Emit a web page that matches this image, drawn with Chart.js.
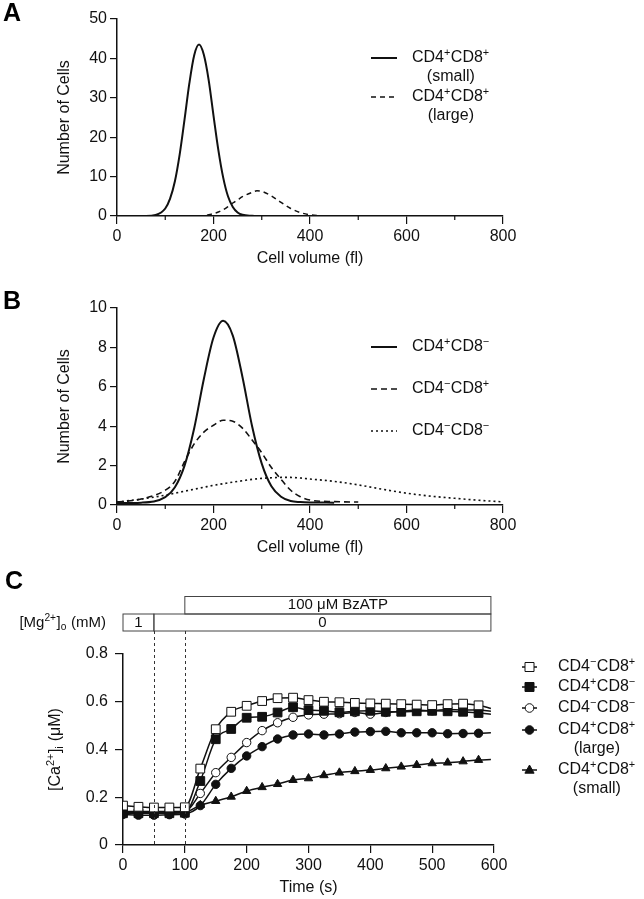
<!DOCTYPE html>
<html>
<head>
<meta charset="utf-8">
<script src="https://cdn.jsdelivr.net/npm/chart.js@4.4.1/dist/chart.umd.min.js"></script>
<style>
  html, body { margin: 0; padding: 0; background: #fff; }
  body { width: 644px; height: 899px; position: relative; overflow: hidden; }
  canvas { position: absolute; left: 0; }
</style>
</head>
<body>
<canvas id="chartA" width="644" height="280" style="top:0px"></canvas>
<canvas id="chartB" width="644" height="280" style="top:280px"></canvas>
<canvas id="chartC" width="644" height="339" style="top:560px"></canvas>
<script>
// ==========================================
// DATA - panel A (cell volume, CD4+CD8+)
// ==========================================
const volA   = [0, 60, 80, 100, 110, 120, 130, 140, 150, 160, 170, 180, 190, 200, 210, 220, 230, 240, 250, 260, 280, 290, 300, 320, 340, 360, 380, 400, 420, 440, 500, 600, 700, 800];
const smallA = [0, 0, 0.25, 1.9, 4.4, 8.8, 15.7, 24.5, 33.7, 40.8, 43.5, 40.9, 34.5, 25.5, 16.8, 9.8, 5, 2.3, 0.9, 0.3, 0.05, 0, 0, 0, 0, 0, 0, 0, 0, 0, 0, 0, 0, 0];
const largeA = [0, 0, 0, 0, 0, 0, 0, 0, 0, 0, 0.02, 0.1, 0.3, 0.6, 1.0, 1.6, 2.4, 3.3, 4.1, 4.9, 6.0, 6.4, 6.25, 5.1, 3.45, 1.9, 0.87, 0.32, 0.1, 0.02, 0, 0, 0, 0];
const legendA = ['CD4^+CD8^+|(small)', 'CD4^+CD8^+|(large)'];
const yTicksA = [0, 10, 20, 30, 40, 50];

// ==========================================
// DATA - panel B (single positive / double negative)
// ==========================================
const volB    = [0, 50, 100, 120, 140, 160, 180, 200, 220, 240, 260, 280, 300, 320, 340, 360, 380, 400, 450, 500, 550, 600, 650, 700, 750, 800];
const cd4pB   = [0.1, 0.12, 0.4, 0.9, 2.0, 3.9, 6.4, 8.5, 9.35, 8.6, 6.5, 4.0, 2.1, 0.95, 0.42, 0.2, 0.15, 0.13, 0.12, null, null, null, null, null, null, null];
const cd8pB   = [0.15, 0.3, 0.75, 1.2, 2.2, 3.1, 3.7, 4.05, 4.3, 4.25, 3.9, 3.3, 2.65, 1.9, 1.3, 0.75, 0.42, 0.25, 0.17, 0.15, null, null, null, null, null, null];
const dnB     = [0.15, 0.3, 0.5, 0.6, 0.7, 0.8, 0.9, 1.0, 1.08, 1.16, 1.23, 1.3, 1.35, 1.38, 1.4, 1.4, 1.37, 1.32, 1.2, 1.02, 0.8, 0.6, 0.45, 0.34, 0.24, 0.16];
const legendB = ['CD4^+CD8^−', 'CD4^−CD8^+', 'CD4^−CD8^−'];
const yTicksB = [0, 2, 4, 6, 8, 10];

const volTicks = [0, 200, 400, 600, 800];
const volMinor = [100, 300, 500, 700];

// ==========================================
// DATA - panel C ([Ca2+]i time course)
// ==========================================
const timeC  = [0, 25, 50, 75, 100, 125, 150, 175, 200, 225, 250, 275, 300, 325, 350, 375, 400, 425, 450, 475, 500, 525, 550, 575];
const dnCD8p = [0.165, 0.16, 0.157, 0.157, 0.158, 0.32, 0.485, 0.558, 0.583, 0.603, 0.615, 0.617, 0.607, 0.6, 0.598, 0.595, 0.593, 0.592, 0.59, 0.588, 0.586, 0.59, 0.592, 0.585];
const cd4pC  = [0.133, 0.133, 0.133, 0.133, 0.135, 0.268, 0.443, 0.486, 0.533, 0.537, 0.555, 0.577, 0.565, 0.562, 0.556, 0.56, 0.562, 0.558, 0.558, 0.56, 0.562, 0.56, 0.558, 0.553];
const dnC    = [0.14, 0.14, 0.14, 0.14, 0.14, 0.216, 0.303, 0.367, 0.429, 0.479, 0.512, 0.535, 0.545, 0.548, 0.55, 0.555, 0.548, 0.555, 0.56, 0.565, 0.562, 0.568, 0.565, 0.565];
const dpLarge = [0.128, 0.125, 0.125, 0.127, 0.13, 0.165, 0.254, 0.321, 0.373, 0.412, 0.444, 0.461, 0.465, 0.461, 0.465, 0.473, 0.475, 0.476, 0.47, 0.47, 0.47, 0.466, 0.467, 0.468];
const dpSmall = [0.135, 0.135, 0.135, 0.135, 0.137, 0.167, 0.184, 0.202, 0.226, 0.242, 0.255, 0.272, 0.279, 0.292, 0.303, 0.309, 0.314, 0.321, 0.328, 0.335, 0.342, 0.345, 0.35, 0.356];
// fitted lines run on a little past the last sample
const fitEndT = 595;
const fitEndC = [0.572, 0.548, 0.56, 0.47, 0.358];
const legendC = ['CD4^−CD8^+', 'CD4^+CD8^−', 'CD4^−CD8^−', 'CD4^+CD8^+|(large)', 'CD4^+CD8^+|(small)'];
const timeTicks = [0, 100, 200, 300, 400, 500, 600];
const caTicks = [0, 0.2, 0.4, 0.6, 0.8];
const mgPeriods = [[0, 50, '1'], [50, 595, '0']];
const bzatpPeriod = [100, 595, '100 μM BzATP'];

// ==========================================
// HELPERS
// ==========================================
const ink = '#111';
const FAMILY = '"Liberation Sans", Arial, Helvetica, sans-serif';
Chart.defaults.font.family = FAMILY;
Chart.defaults.font.size = 16;
Chart.defaults.color = ink;
Chart.defaults.animation = false;

const pts = (xs, ys) => xs.map((x, i) => ({ x: x, y: ys[i] }));
const setTicks = list => (s => { s.ticks = list.map(v => ({ value: v })); });

// "^x" / "^{..}" = superscript, "_x" / "_{..}" = subscript
function parseRich(s) {
    const out = [];
    let buf = '', i = 0;
    while (i < s.length) {
        const c = s[i];
        if (c === '^' || c === '_') {
            if (buf) { out.push({ t: buf, m: 0 }); buf = ''; }
            let t;
            if (s[i + 1] === '{') { const j = s.indexOf('}', i); t = s.slice(i + 2, j); i = j + 1; }
            else { t = s[i + 1]; i += 2; }
            out.push({ t: t, m: c === '^' ? 1 : -1 });
        } else { buf += c; i++; }
    }
    if (buf) out.push({ t: buf, m: 0 });
    return out;
}

function richText(ctx, s, x, y, size, align) {
    const parts = parseRich(s);
    const small = size * 0.68;
    let w = 0;
    parts.forEach(p => {
        ctx.font = (p.m ? small : size) + 'px ' + FAMILY;
        p.w = ctx.measureText(p.t).width + (p.m ? 0.5 : 0);
        w += p.w;
    });
    let cx = align === 'center' ? x - w / 2 : align === 'right' ? x - w : x;
    ctx.textAlign = 'left';
    ctx.textBaseline = 'middle';
    ctx.fillStyle = ink;
    parts.forEach(p => {
        ctx.font = (p.m ? small : size) + 'px ' + FAMILY;
        const dy = p.m === 1 ? -size * 0.33 : p.m === -1 ? size * 0.28 : 0;
        ctx.fillText(p.t, cx, y + dy);
        cx += p.w;
    });
    return w;
}

function legendText(ctx, label, x, y, size) {
    const lines = label.split('|');
    const w = richText(ctx, lines[0], x, y, size, 'left');
    lines.slice(1).forEach((l, k) => richText(ctx, l, x + w / 2, y + 19 * (k + 1), size, 'center'));
}

function legendLine(ctx, x1, x2, y, dash, width) {
    ctx.save();
    ctx.strokeStyle = ink;
    ctx.lineWidth = width;
    ctx.setLineDash(dash);
    ctx.beginPath(); ctx.moveTo(x1, y); ctx.lineTo(x2, y); ctx.stroke();
    ctx.restore();
}

function panelLetter(ctx, letter, x, y) {
    ctx.font = 'bold 25px ' + FAMILY;
    ctx.fillStyle = '#000';
    ctx.textAlign = 'left';
    ctx.textBaseline = 'middle';
    ctx.fillText(letter, x, y);
}

function drawMinor(chart) {
    const ctx = chart.ctx, xs = chart.scales.x, y0 = chart.chartArea.bottom;
    ctx.save();
    ctx.strokeStyle = ink; ctx.lineWidth = 1.2;
    ctx.beginPath();
    volMinor.forEach(v => { const px = xs.getPixelForValue(v); ctx.moveTo(px, y0); ctx.lineTo(px, y0 + 4); });
    ctx.stroke();
    ctx.restore();
}

function marker(ctx, style, filled, x, y) {
    ctx.save();
    ctx.strokeStyle = ink; ctx.lineWidth = 1;
    ctx.beginPath();
    if (style === 'rect') ctx.rect(x - 4.5, y - 4.5, 9, 9);
    else if (style === 'circle') ctx.arc(x, y, 4.3, 0, Math.PI * 2);
    else { ctx.moveTo(x, y - 5); ctx.lineTo(x + 4.6, y + 3.2); ctx.lineTo(x - 4.6, y + 3.2); ctx.closePath(); }
    ctx.fillStyle = filled ? ink : '#fff';
    ctx.fill(); ctx.stroke();
    ctx.restore();
}

function axisStyle(tickLen) {
    return {
        grid: { drawOnChartArea: false, tickLength: tickLen, color: ink, lineWidth: 1.2 },
        border: { color: ink, width: 1.5 }
    };
}

function volumeScales(yTicks, yMax, xHeight, titlePad) {
    return {
        x: Object.assign({
            type: 'linear', min: 0, max: 800,
            afterBuildTicks: setTicks(volTicks),
            afterFit: s => { s.height = xHeight; },
            ticks: { padding: 3, maxRotation: 0, autoSkip: false },
            title: { display: true, text: 'Cell volume (fl)', padding: { top: 0, bottom: titlePad } }
        }, axisStyle(8)),
        y: Object.assign({
            type: 'linear', min: 0, max: yMax,
            afterBuildTicks: setTicks(yTicks),
            afterFit: s => { s.width = 72; },
            ticks: { padding: 3 },
            title: { display: true, text: 'Number of Cells', padding: { top: 10.4, bottom: 0 } }
        }, axisStyle(7))
    };
}

function curve(data, dash, width) {
    return {
        data: data, borderColor: ink, borderWidth: width, borderDash: dash,
        pointRadius: 0, fill: false, cubicInterpolationMode: 'monotone', spanGaps: false
    };
}

// ==========================================
// PANEL A
// ==========================================
new Chart(document.getElementById('chartA'), {
    type: 'line',
    data: {
        datasets: [
            curve(pts(volA, smallA), [], 2),
            curve(pts(volA, largeA), [5, 4], 1.5)
        ]
    },
    options: {
        responsive: false, maintainAspectRatio: false,
        layout: { padding: { left: 45, right: 141, top: 19, bottom: 0 } },
        plugins: { legend: { display: false }, tooltip: { enabled: false } },
        scales: volumeScales(yTicksA, 50, 64, 11.4)
    },
    plugins: [{
        id: 'decorA',
        afterDraw(chart) {
            const ctx = chart.ctx;
            panelLetter(ctx, 'A', 3, 14);
            drawMinor(chart);
            legendLine(ctx, 371, 397, 58, [], 2);
            legendText(ctx, legendA[0], 412, 58, 16);
            legendLine(ctx, 371, 397, 97, [5, 4], 1.5);
            legendText(ctx, legendA[1], 412, 97, 16);
        }
    }]
});

// ==========================================
// PANEL B
// ==========================================
new Chart(document.getElementById('chartB'), {
    type: 'line',
    data: {
        datasets: [
            curve(pts(volB, cd4pB), [], 2),
            curve(pts(volB, cd8pB), [6, 4], 1.6),
            curve(pts(volB, dnB), [2, 3], 1.6)
        ]
    },
    options: {
        responsive: false, maintainAspectRatio: false,
        layout: { padding: { left: 45, right: 141, top: 28, bottom: 0 } },
        plugins: { legend: { display: false }, tooltip: { enabled: false } },
        scales: volumeScales(yTicksB, 10, 55, 2.4)
    },
    plugins: [{
        id: 'decorB',
        afterDraw(chart) {
            const ctx = chart.ctx;
            panelLetter(ctx, 'B', 3, 22);
            drawMinor(chart);
            const dashes = [[], [6, 4], [2, 3]];
            [67, 109, 151].forEach((y, i) => {
                legendLine(ctx, 371, 397, y, dashes[i], i ? 1.6 : 2);
                legendText(ctx, legendB[i], 412, y, 16);
            });
        }
    }]
});

// ==========================================
// PANEL C
// ==========================================
const markersC = [['rect', false], ['rect', true], ['circle', false], ['circle', true], ['triangle', true]];
const seriesC = [dnCD8p, cd4pC, dnC, dpLarge, dpSmall];
const radiusC = { rect: 6.2, circle: 4.2, triangle: 4.8 };

new Chart(document.getElementById('chartC'), {
    type: 'line',
    data: {
        datasets: seriesC.map((vals, i) => ({
            data: pts(timeC.concat([fitEndT]), vals.concat([fitEndC[i]])),
            borderColor: ink, borderWidth: 1.5,
            pointStyle: markersC[i][0],
            // no marker on the fitted-line tail
            pointRadius: c => c.dataIndex < timeC.length ? radiusC[markersC[i][0]] : 0,
            pointBackgroundColor: markersC[i][1] ? ink : '#fff',
            pointBorderColor: ink, pointBorderWidth: 1,
            fill: false, cubicInterpolationMode: 'monotone'
        }))
    },
    options: {
        responsive: false, maintainAspectRatio: false,
        layout: { padding: { left: 40, right: 150, top: 94, bottom: 0 } },
        plugins: { legend: { display: false }, tooltip: { enabled: false } },
        scales: {
            x: Object.assign({
                type: 'linear', min: 0, max: 600,
                afterBuildTicks: setTicks(timeTicks),
                afterFit: s => { s.height = 54; },
                ticks: { padding: 3, maxRotation: 0, autoSkip: false },
                title: { display: true, text: 'Time (s)', padding: { top: 0, bottom: 1.4 } }
            }, axisStyle(8)),
            y: Object.assign({
                type: 'linear', min: 0, max: 0.8,
                afterBuildTicks: setTicks(caTicks),
                afterFit: s => { s.width = 83; },
                ticks: { padding: 7 }
            }, axisStyle(8))
        }
    },
    plugins: [{
        id: 'decorC',
        afterDraw(chart) {
            const ctx = chart.ctx, xs = chart.scales.x, area = chart.chartArea;
            panelLetter(ctx, 'C', 5, 22);

            // treatment boxes
            ctx.save();
            ctx.strokeStyle = '#444'; ctx.lineWidth = 1;
            const bx1 = xs.getPixelForValue(bzatpPeriod[0]), bx2 = xs.getPixelForValue(bzatpPeriod[1]);
            ctx.strokeRect(bx1, 36.5, bx2 - bx1, 17.5);
            richText(ctx, bzatpPeriod[2], (bx1 + bx2) / 2, 45, 15, 'center');
            mgPeriods.forEach(p => {
                const a = xs.getPixelForValue(p[0]), b = xs.getPixelForValue(p[1]);
                ctx.strokeStyle = '#444';
                ctx.strokeRect(a, 54, b - a, 17);
                richText(ctx, p[2], (a + b) / 2, 63, 15, 'center');
            });
            richText(ctx, '[Mg^{2+}]_o (mM)', 106, 63, 15, 'right');

            // dashed markers at solution changes
            ctx.setLineDash([3, 3]);
            ctx.strokeStyle = '#333';
            ctx.beginPath();
            [mgPeriods[1][0], bzatpPeriod[0]].forEach(t => {
                const px = Math.round(xs.getPixelForValue(t)) + 0.5;
                ctx.moveTo(px, 71); ctx.lineTo(px, area.bottom);
            });
            ctx.stroke();
            ctx.restore();

            // y axis title
            ctx.save();
            ctx.translate(56, (area.top + area.bottom) / 2);
            ctx.rotate(-Math.PI / 2);
            richText(ctx, '[Ca^{2+}]_i (μM)', 0, 0, 16, 'center');
            ctx.restore();

            // legend
            [107, 127, 148, 170, 210].forEach((y, i) => {
                legendLine(ctx, 522, 537, y, [], 1.5);
                marker(ctx, markersC[i][0], markersC[i][1], 529.5, y);
                legendText(ctx, legendC[i], 558, y, 16);
            });
        }
    }]
});
</script>
</body>
</html>
